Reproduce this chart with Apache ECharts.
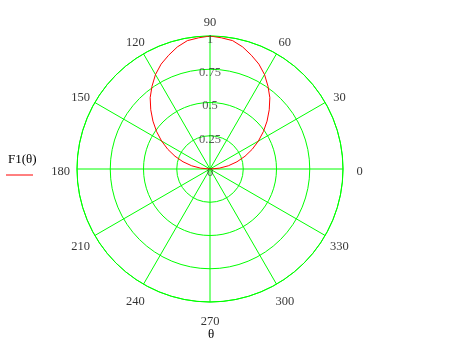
<!DOCTYPE html>
<html>
<head>
<meta charset="utf-8">
<script src="https://cdn.jsdelivr.net/npm/echarts@6/dist/echarts.min.js"></script>
<style>html,body{margin:0;padding:0;background:#fff;}#c{width:457px;height:360px;}</style>
</head>
<body>
<div id="c"></div>
<script>
// Data
var thetaDeg = [0,5,10,15,20,25,30,35,40,45,50,55,60,65,70,75,80,85,90,95,100,105,110,115,120,125,130,135,140,145,150,155,160,165,170,175,180];
var F1 = [0,0.07,0.14,0.21,0.28,0.35,0.42,0.49,0.56,0.63,0.70,0.76,0.82,0.87,0.91,0.95,0.98,0.99,1.00,0.99,0.98,0.95,0.91,0.87,0.82,0.76,0.70,0.63,0.56,0.49,0.42,0.35,0.28,0.21,0.14,0.07,0];
var radiusTicks = [0, 0.25, 0.5, 0.75, 1];
var radiusTickLabels = ['0', '0.25', '0.5', '0.75', '1'];
var angleTicks = [0, 30, 60, 90, 120, 150, 180, 210, 240, 270, 300, 330];
var angleTickLabels = ['0', '30', '60', '90', '120', '150', '180', '210', '240', '270', '300', '330'];
var seriesName = 'F1(\u03b8)';
var angleName = '\u03b8';

var green = '#00ff00';
var serif = '"Liberation Serif", "DejaVu Serif", serif';
var LABEL_GAP = 16.5, LABEL_DROP = 3;

var lineData = thetaDeg.map(function (t, i) { return [F1[i], t]; });
var rTickData = radiusTicks.map(function (r) { return [r, 90]; });
var aTickData = angleTicks.map(function (a) {
  var rad = a * Math.PI / 180;
  return {
    value: [1, a],
    label: { offset: [LABEL_GAP * Math.cos(rad), -LABEL_GAP * Math.sin(rad) + LABEL_DROP] }
  };
});

var chart = echarts.init(document.getElementById('c'), null, {renderer: 'canvas'});
chart.setOption({
  animation: false,
  backgroundColor: '#fff',
  polar: { center: [210, 169], radius: 133 },
  angleAxis: {
    type: 'value', min: 0, max: 360, interval: 30,
    startAngle: 0, clockwise: false,
    axisLine: { show: true, lineStyle: { color: green, width: 1 } },
    axisTick: { show: false },
    splitLine: { show: true, lineStyle: { color: green, width: 1 } },
    axisLabel: { show: false }
  },
  radiusAxis: {
    type: 'value', min: 0, max: 1, interval: 0.25,
    axisLine: { show: false },
    axisTick: { show: false },
    axisLabel: { show: false },
    splitLine: { show: true, lineStyle: { color: green, width: 1 } }
  },
  series: [
    {
      name: seriesName, type: 'line', coordinateSystem: 'polar',
      data: lineData, showSymbol: false, smooth: false,
      lineStyle: { color: '#ff0000', width: 1 }, z: 5
    },
    {
      type: 'scatter', coordinateSystem: 'polar', data: rTickData,
      symbolSize: 0, silent: true, z: 6,
      label: {
        show: true, position: 'inside', offset: [0, 3.5],
        color: '#333', fontFamily: serif, fontSize: 12.5,
        formatter: function (p) { return radiusTickLabels[p.dataIndex]; }
      }
    },
    {
      type: 'scatter', coordinateSystem: 'polar', data: aTickData,
      symbolSize: 0, silent: true, z: 6,
      label: {
        show: true, position: 'inside',
        color: '#000', fontFamily: serif, fontSize: 12.5,
        formatter: function (p) { return angleTickLabels[p.dataIndex]; }
      }
    }
  ],
  graphic: [
    { type: 'text', left: 8, top: 153, style: { text: seriesName, font: '13px ' + serif, fill: '#000' } },
    { type: 'line', shape: { x1: 6, y1: 175, x2: 33, y2: 175 }, style: { stroke: '#ff0000', lineWidth: 1 } },
    { type: 'text', left: 208, top: 328, style: { text: angleName, font: '13px ' + serif, fill: '#000' } }
  ]
});
</script>
</body>
</html>
